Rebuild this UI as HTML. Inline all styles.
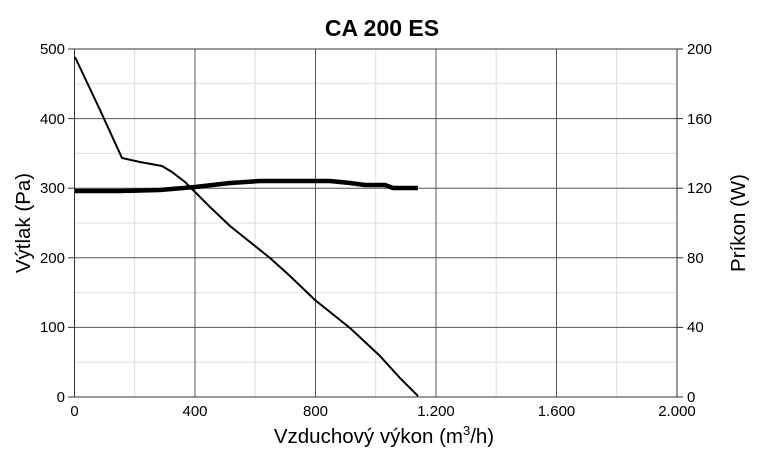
<!DOCTYPE html>
<html><head><meta charset="utf-8"><style>body{margin:0;background:#fff}</style></head><body>
<svg width="771" height="462" xmlns="http://www.w3.org/2000/svg" font-family="Liberation Sans, sans-serif">
<rect width="771" height="462" fill="#fff"/>
<g stroke="#ddd" stroke-width="1">
<line x1="134.7" y1="49" x2="134.7" y2="397"/><line x1="255.2" y1="49" x2="255.2" y2="397"/><line x1="375.7" y1="49" x2="375.7" y2="397"/><line x1="496.2" y1="49" x2="496.2" y2="397"/><line x1="616.7" y1="49" x2="616.7" y2="397"/>
<line x1="74.5" y1="83.8" x2="677" y2="83.8"/><line x1="74.5" y1="153.4" x2="677" y2="153.4"/><line x1="74.5" y1="223" x2="677" y2="223"/><line x1="74.5" y1="292.6" x2="677" y2="292.6"/><line x1="74.5" y1="362.2" x2="677" y2="362.2"/>
</g>
<g stroke="#555" stroke-width="1">
<line x1="195" y1="49" x2="195" y2="397"/><line x1="315.5" y1="49" x2="315.5" y2="397"/><line x1="436" y1="49" x2="436" y2="397"/><line x1="556.5" y1="49" x2="556.5" y2="397"/>
<line x1="74.5" y1="118.6" x2="677" y2="118.6"/><line x1="74.5" y1="188.2" x2="677" y2="188.2"/><line x1="74.5" y1="257.8" x2="677" y2="257.8"/><line x1="74.5" y1="327.4" x2="677" y2="327.4"/>
</g>
<rect x="74.5" y="49" width="602.5" height="348" fill="none" stroke="#333" stroke-width="1"/>
<g stroke="#333"><line x1="68" y1="49" x2="74.5" y2="49"/><line x1="68" y1="118.6" x2="74.5" y2="118.6"/><line x1="68" y1="188.2" x2="74.5" y2="188.2"/><line x1="68" y1="257.8" x2="74.5" y2="257.8"/><line x1="68" y1="327.4" x2="74.5" y2="327.4"/><line x1="68" y1="397" x2="74.5" y2="397"/>
<line x1="677" y1="49" x2="683" y2="49"/><line x1="677" y1="118.6" x2="683" y2="118.6"/><line x1="677" y1="188.2" x2="683" y2="188.2"/><line x1="677" y1="257.8" x2="683" y2="257.8"/><line x1="677" y1="327.4" x2="683" y2="327.4"/><line x1="677" y1="397" x2="683" y2="397"/></g>
<polyline fill="none" stroke="#000" stroke-width="2" stroke-linejoin="round" points="75,57 100,110 122,158 140,162 162,166 172,172 185,182 195,192 210,207 230,226 250,242 270,258 290,276 315,300 350,328 380,356 400,378 418,396"/>
<polyline fill="none" stroke="#000" stroke-width="4.5" stroke-linejoin="round" points="75,191 120,191 160,190 195,187 230,183 260,181 300,181 330,181 350,183 365,185 385,185 393,188 418,188"/>
<text x="382" y="36" font-size="23" font-weight="bold" text-anchor="middle">CA 200 ES</text>
<g font-size="15" text-anchor="end"><text x="65" y="54">500</text><text x="65" y="124">400</text><text x="65" y="193">300</text><text x="65" y="263">200</text><text x="65" y="332">100</text><text x="65" y="402">0</text></g>
<g font-size="15"><text x="687" y="54">200</text><text x="687" y="124">160</text><text x="687" y="193">120</text><text x="687" y="263">80</text><text x="687" y="332">40</text><text x="687" y="402">0</text></g>
<g font-size="15" text-anchor="middle"><text x="74.5" y="416">0</text><text x="195" y="416">400</text><text x="315.5" y="416">800</text><text x="436" y="416">1.200</text><text x="556.5" y="416">1.600</text><text x="677" y="416">2.000</text></g>
<text x="384" y="443" font-size="20.5" text-anchor="middle">Vzduchový výkon (m<tspan font-size="13" dy="-8">3</tspan><tspan dy="8">/h)</tspan></text>
<text transform="translate(30,223) rotate(-90)" font-size="20.5" text-anchor="middle">Výtlak (Pa)</text>
<text transform="translate(745,223) rotate(-90)" font-size="20.5" text-anchor="middle">Príkon (W)</text>
</svg>
</body></html>
